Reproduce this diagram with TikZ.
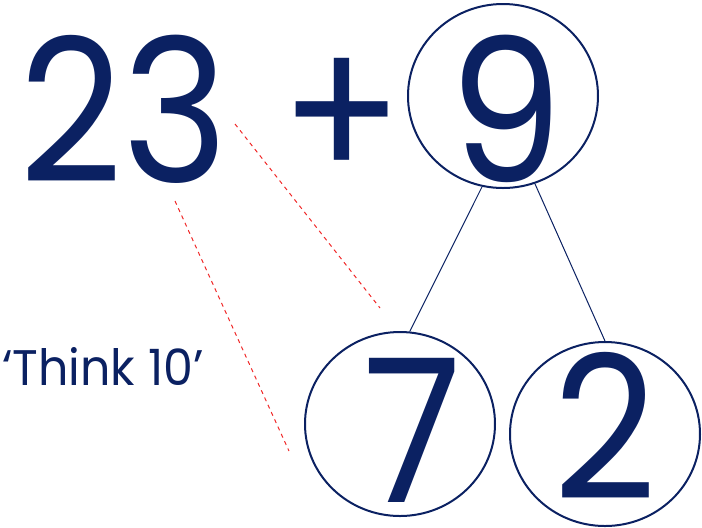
\documentclass[tikz,border=0pt]{standalone}
\usepackage{fontspec}
\setmainfont{Poppins}
\newfontfamily\digitfont[FakeStretch=0.9]{Poppins}
\newfontfamily\notefont[FakeStretch=0.95]{Poppins}
\usetikzlibrary{shapes.geometric}
\definecolor{mnavy}{HTML}{0B2162}
\definecolor{mhint}{HTML}{F02828}
\tikzset{
  ring/.style={draw=mnavy, ellipse, line width=1pt, inner sep=0pt,
               minimum width=95pt, minimum height=92pt},
  bigdigit/.style={text=mnavy, inner sep=0pt, anchor=base,
                   font=\digitfont\fontsize{100}{100}\selectfont},
  link/.style={mnavy, line width=0.5pt},
  hint/.style={mhint, line width=0.5pt, dash pattern=on 2pt off 2pt},
}
\begin{document}
\begin{tikzpicture}[x=0.5pt, y=-0.5pt]
  \useasboundingbox (0,0) rectangle (702,527);
  % sum
  \node[bigdigit] (tens) at (124,182) {23};
  \node[bigdigit] (plus) at (342,182) {+};
  \node[ring] (nine) at (503,96) {};
  \node[bigdigit] (ninetxt) at (506,182) {9};
  % split of 9
  \node[ring] (seven) at (400,424) {};
  \node[bigdigit] (seventxt) at (413,502) {7};
  \node[ring] (two) at (605,434) {};
  \node[bigdigit] (twotxt) at (605,499) {2};
  \draw[link] (nine.257) -- (seven.84);
  \draw[link] (nine.290) -- (two.90);
  % hint
  \node[text=mnavy, inner sep=0pt, anchor=base west,
        font=\notefont\fontsize{25}{25}\selectfont] (think) at (2,385) {‘Think 10’};
  \coordinate (h1a) at (235,124);
  \coordinate (h1b) at (380,308);
  \coordinate (h2a) at (175,201);
  \coordinate (h2b) at (289,451);
  \draw[hint] (h1a) -- (h1b);
  \draw[hint] (h2a) -- (h2b);
\end{tikzpicture}
\end{document}
